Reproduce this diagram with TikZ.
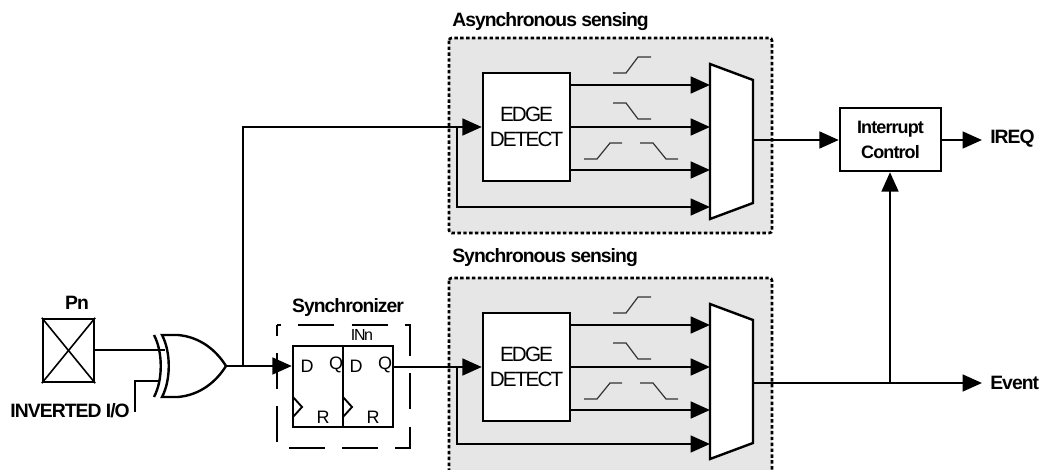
\documentclass[tikz,border=0pt]{standalone}
\usepackage{fontspec}
\setmainfont{Liberation Sans}[LetterSpace=-9]
\newfontfamily\labelfont{Liberation Sans Bold}[LetterSpace=-5]
\newfontfamily\ffont{Liberation Sans}
\usetikzlibrary{arrows.meta}
\definecolor{sensegray}{HTML}{E6E6E6}
\tikzset{
  wire/.style={line width=1.8pt},
  arrowwire/.style={line width=1.8pt, -{Triangle[length=14.5pt,width=12.5pt]}},
  thickwire/.style={arrowwire, line width=2pt},
  block/.style={draw, line width=1.8pt, fill=white, align=center, inner sep=0pt, font=\fontsize{15.5}{18.75}\selectfont},
  title/.style={inner sep=0pt, font=\labelfont\fontsize{14.5}{16}\selectfont},
  pin/.style={inner sep=0pt, font=\ffont\fontsize{13.5}{14}\selectfont},
  edgemark/.style={line width=0.9pt, black!80}
}
\begin{document}
\begin{tikzpicture}[x=0.75pt, y=-0.75pt]
      \clip (0, 0) rectangle (1041, 470);

      % both sensing blocks
      \foreach \sense/\dy/\ylast/\yout/\titley/\titletext in {asyn/0/207/140/22/Asynchronous sensing, syn/240/204/143/18/Synchronous sensing} {
        \fill [sensegray] (449, 38 + \dy) rectangle (772, 233 + \dy);
        \draw [line width=2pt, dash pattern=on 2.6pt off 1.8pt, rounded corners=2pt] (449, 38 + \dy) rectangle (772, 233 + \dy);
        \node [title, anchor=west] (title\sense) at (452, \titley + \dy) {\titletext};

        \node [block, minimum width=65.25pt, minimum height=81pt] (edge\sense) at (526.5, 127 + \dy) {EDGE\\DETECT};

        \draw [wire, fill=white, line join=miter] (710, 64 + \dy) -- (753, 80 + \dy) -- (753, 203 + \dy) -- (710, 219 + \dy) -- cycle;
        \coordinate (mux\sense a) at (710, 85 + \dy);
        \coordinate (mux\sense b) at (710, 127 + \dy);
        \coordinate (mux\sense c) at (710, 170 + \dy);
        \coordinate (mux\sense d) at (710, \ylast + \dy);
        \coordinate (out\sense) at (753, \yout + \dy);
        \coordinate (tap\sense) at (457, 127 + \dy);

        \draw [thickwire] (edge\sense.east |- mux\sense a) -- (mux\sense a);
        \draw [thickwire] (edge\sense.east |- mux\sense b) -- (mux\sense b);
        \draw [thickwire] (edge\sense.east |- mux\sense c) -- (mux\sense c);
        \draw [arrowwire] (tap\sense) |- (mux\sense d);

        \draw [edgemark] (613, 73 + \dy) -- (626, 73 + \dy) -- (638, 57 + \dy) -- (651, 57 + \dy);
        \draw [edgemark] (613, 103 + \dy) -- (626, 103 + \dy) -- (638, 119 + \dy) -- (651, 119 + \dy);
        \draw [edgemark] (584, 159 + \dy) -- (597, 159 + \dy) -- (610, 143 + \dy) -- (622, 143 + \dy);
        \draw [edgemark] (640, 143 + \dy) -- (653, 143 + \dy) -- (666, 159 + \dy) -- (678, 159 + \dy);
      }

      \node [block, minimum width=75.75pt, minimum height=47.25pt, font=\labelfont\fontsize{13.5}{18.75}\selectfont] (control) at (890.5, 139.5) {Interrupt\\Control};
      \node [title, anchor=west] (ireq) at (990, 139) {IREQ};
      \node [title, anchor=west] (event) at (990, 383) {Event};
      \coordinate (ireqend) at (982, 140);
      \coordinate (eventend) at (982, 383);
      \coordinate (eventtap) at (890, 383);

      \draw [arrowwire] (outasyn) -- (control.west |- outasyn);
      \draw [arrowwire] (control.east |- ireqend) -- (ireqend);
      \draw [wire] (outsyn) -- (eventtap);
      \draw [arrowwire] (eventtap) -- (eventend);
      \draw [arrowwire] (eventtap) -- (control.south -| eventtap);

      % pin
      \node [draw, line width=1.8pt, fill=white, minimum width=38.25pt, minimum height=47.25pt, inner sep=0pt] (pin) at (68.5, 350.5) {};
      \draw [line width=1.2pt] (pin.north west) -- (pin.south east);
      \draw [line width=1.2pt] (pin.south west) -- (pin.north east);
      \node [title] (pinname) at (77, 303) {Pn};
      \node [title, anchor=east] (inverted) at (130, 411) {INVERTED I/O};

      % xor gate
      \coordinate (xorin) at (165, 350);
      \coordinate (xorlow) at (160, 381);
      \coordinate (xorout) at (226, 366);
      \coordinate (invstub) at (135, 412);
      \draw [wire] (pin.east |- xorin) -- (xorin);
      \draw [wire] (invstub) |- (xorlow);
      \draw [wire, fill=white] (162, 335) -- (178, 335) .. controls (200, 337) and (216, 350) .. (xorout) .. controls (216, 382) and (200, 395) .. (178, 397) -- (162, 397) .. controls (171, 380) and (171, 352) .. (162, 335) -- cycle;
      \draw [wire] (154, 335) .. controls (163, 352) and (163, 380) .. (154, 397);

      % synchronizer
      \node [title] (syncname) at (348, 308) {Synchronizer};
      \draw [line width=2pt, dash pattern=on 27pt off 13pt, dash phase=24pt] (277, 325) -- (410, 325) -- (410, 448) -- (277, 448) -- cycle;
      \node [draw, line width=1.8pt, minimum width=37.5pt, minimum height=60.75pt, inner sep=0pt] (ffa) at (318, 386.5) {};
      \node [draw, line width=1.8pt, minimum width=37.5pt, minimum height=60.75pt, inner sep=0pt] (ffb) at (368, 386.5) {};
      \draw [line width=1.4pt] (293, 397) -- (302, 407) -- (293, 417);
      \draw [line width=1.4pt] (343, 397) -- (352, 407) -- (343, 417);
      \node [pin] (da) at (307, 366) {D};
      \node [pin] (qa) at (336, 365) {Q};
      \node [pin] (ra) at (323, 417) {R};
      \node [pin] (db) at (356, 366) {D};
      \node [pin] (qb) at (385, 365) {Q};
      \node [pin] (rb) at (373, 417) {R};
      \node [pin, font=\fontsize{12}{14}\selectfont] (inn) at (362, 335) {INn};

      \coordinate (splitnode) at (243, 366);
      \draw [arrowwire] (xorout) -- (ffa.west |- xorout);
      \draw [arrowwire] (splitnode) |- (edgeasyn.west);
      \draw [arrowwire] (ffb.east |- tapsyn) -- (edgesyn.west);
\end{tikzpicture}
\end{document}
